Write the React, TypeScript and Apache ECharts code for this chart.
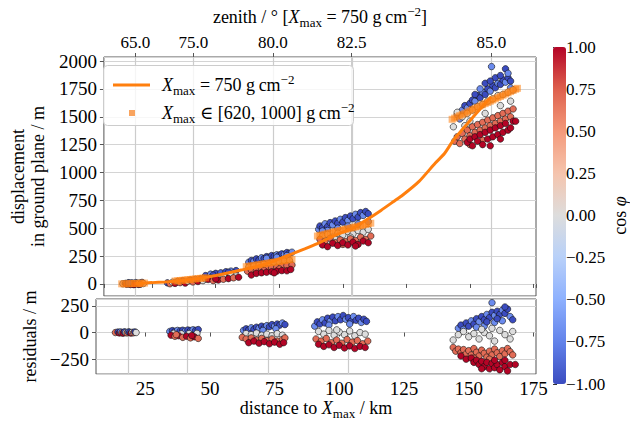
import React, { useEffect, useRef } from 'react';
import * as echarts from 'echarts';

const FONT = "'Liberation Serif', 'DejaVu Serif', serif";

// zenith axis (top): label text and the distance (km) at which it sits
const zenithLabels = ['65.0', '75.0', '80.0', '82.5', '85.0'];
const zenithKm = [18.4, 41.2, 72.5, 103.5, 158.4];

// X_max = 750 g/cm2 curve
const curveKm = [18.4, 25, 30, 35, 41.2, 46, 50, 55, 60, 65, 70, 72.5, 76, 80, 85, 90, 95, 100, 103.5, 110, 115, 120, 123.6, 130, 136.4, 140, 143.5, 147, 150, 154, 158.4];
const curveDisp = [5, 12, 18, 27, 42, 60, 76, 100, 125, 150, 182, 200, 235, 270, 315, 362, 415, 465, 495, 585, 660, 740, 798, 920, 1085, 1170, 1290, 1385, 1465, 1570, 1680];

// X_max in [620, 1000] squares: [km, displacement]
const bandA = [[13, 1], [14, 2], [15, 2], [16, 3], [17, 4], [18, 4], [19, 5], [20, 6], [21, 7], [22, 8]];
const bandB = [[34, 26], [35, 28], [36, 31], [37, 33], [38, 35], [39, 38], [40, 40], [41, 43], [42, 45], [43, 48], [44, 50], [45, 53], [46, 56]];
const bandC = [[62, 155], [63, 159], [64, 162], [65, 166], [66, 170], [67, 173], [68, 177], [69, 181], [70, 184], [71, 188], [72, 192], [73, 196], [74, 199], [75, 203], [76, 207], [77, 210], [78, 214], [79, 218], [80, 221]];
const bandD = [[90, 430], [91, 436], [92, 441], [93, 447], [94, 452], [95, 458], [96, 463], [97, 469], [98, 474], [99, 480], [100, 485], [101, 490], [102, 496], [103, 501], [104, 507], [105, 512], [106, 518], [107, 523], [108, 529], [109, 534], [110, 540], [111, 545]];
const bandE = [[143, 1477], [144, 1488], [145, 1499], [146, 1510], [147, 1520], [148, 1531], [149, 1542], [150, 1553], [151, 1564], [152, 1574], [153, 1585], [154, 1596], [155, 1607], [156, 1618], [157, 1628], [158, 1639], [159, 1650], [160, 1661], [161, 1672], [162, 1682], [163, 1693], [164, 1704], [165, 1715], [166, 1726], [167, 1736], [168, 1747], [168.7, 1755]];

// displacement points: [km, displacement, cos phi]
const topA = [[13.5, 2, 0], [14.5, 5, -1], [15, -3, 1], [15.5, 8, -0.7], [16, 0, 0.7], [16.5, -5, 1], [17, 10, -1], [17.5, 3, 0], [18, -2, 0.7], [18.5, 12, -0.7], [19, 6, -1], [19.5, -4, 1], [20, 9, 0], [20.5, 1, 0.7], [21, 14, -1], [21.5, 4, 0], [17.8, -6, 1], [15.8, 11, -1], [20.2, -3, 0.7]];
const topB = [[31, 10, -1], [32, 2, 0.7], [33, 15, 0], [34, 5, 1], [35, 22, -0.7], [36, 12, 0.7], [37, 28, -1], [38, 8, 1], [39, 25, 0], [40, 34, -1], [41, 18, 0.7], [42, 40, -0.7], [43, 22, 1], [44, 45, -1], [45, 30, 0],
  [46, 75, -1], [48, 88, -0.7], [50, 95, -1], [52, 100, -0.9], [54, 110, -1], [56, 115, -0.7], [58, 120, -1], [49, 80, -1], [55, 105, -1], [57, 98, -0.7],
  [46, 45, 0], [48, 55, 0], [51, 60, 0], [53, 72, 0], [56, 80, 0], [58, 72, 0],
  [47, 40, 1], [49, 30, 0.7], [51, 35, 1], [53, 42, 0.7], [55, 48, 1], [57, 55, 0.7], [59, 60, 1], [50, 45, 1]];
const topC = [[63, 195, -0.7], [64, 210, -1], [65, 205, -0.7], [66, 225, -1], [67, 215, -1], [68, 235, -0.7], [69, 228, -1], [70, 245, -1], [71, 240, -0.7], [72, 255, -1], [73, 248, -1], [74, 262, -0.7], [75, 258, -1], [76, 270, -1], [77, 265, -0.7], [78, 282, -1], [79, 275, -1], [80, 285, -0.7], [70, 230, -0.7], [74, 240, -0.7], [78, 255, -0.7],
  [63, 150, 0], [65, 160, 0], [67, 165, 0], [69, 175, 0], [71, 180, 0], [73, 190, 0], [75, 195, 0], [77, 205, 0], [79, 210, 0],
  [62.5, 115, 0.7], [64, 125, 0.7], [66, 120, 0.7], [68, 135, 0.7], [70, 140, 0.7], [72, 145, 0.7], [74, 150, 0.7], [76, 160, 0.7], [78, 165, 0.7], [80, 170, 0.7], [69, 120, 0.7], [75, 135, 0.7],
  [64, 80, 1], [66, 95, 1], [68, 100, 1], [70, 105, 1], [72, 110, 1], [74, 115, 1], [76, 120, 1], [78, 118, 1], [79.5, 130, 1], [73, 100, 1]];
const topD = [[90.5, 490, -0.7], [91, 520, -1], [92, 505, -1], [93, 540, -0.7], [94, 515, -1], [95, 550, -1], [96, 530, -0.7], [97, 565, -1], [98, 545, -1], [99, 580, -0.7], [100, 555, -1], [101, 595, -1], [102, 570, -0.7], [103, 610, -1], [104, 585, -1], [105, 625, -0.7], [106, 600, -1], [107, 640, -1], [108, 615, -0.7], [109, 650, -1], [110, 630, -1], [94, 480, -0.7], [98, 500, -0.7], [102, 520, -0.7], [106, 540, -0.7], [110, 560, -0.7], [92, 475, -0.7],
  [92, 430, 0], [94, 445, 0], [96, 420, 0], [98, 455, 0], [100, 440, 0], [102, 470, 0], [104, 450, 0], [106, 480, 0], [108, 465, 0], [110, 490, 0], [97, 400, 0], [103, 420, 0],
  [91, 400, 0.7], [93, 385, 0.7], [95, 410, 0.7], [97, 370, 0.7], [99, 395, 0.7], [101, 380, 0.7], [103, 405, 0.7], [105, 390, 0.7], [107, 420, 0.7], [109, 400, 0.7], [111, 430, 0.7], [100, 355, 0.7],
  [92, 350, 1], [94, 335, 1], [96, 365, 1], [98, 345, 1], [100, 370, 1], [102, 350, 1], [104, 375, 1], [106, 355, 1], [108, 385, 1], [110, 370, 1], [105, 340, 1]];
const topE = [[147, 1560, -0.7], [148, 1600, -1], [149, 1580, -0.7], [150, 1620, -1], [151, 1650, -1], [152, 1640, -0.7], [153, 1690, -1], [154, 1670, -1], [155, 1720, -0.7], [156, 1700, -1], [157, 1750, -1], [158, 1730, -0.7], [159, 1780, -1], [160, 1760, -1], [161, 1800, -0.7], [162, 1790, -1], [163, 1830, -1], [164, 1810, -0.7], [165, 1850, -1], [166, 1820, -1], [158.5, 1950, -0.7], [164, 1930, -1], [160, 1850, -1], [162, 1870, -1], [156, 1800, -1], [154, 1750, -0.7], [145, 1520, -0.7], [146, 1480, -0.7], [152, 1700, -1], [158, 1820, -1], [165, 1890, -0.7], [166, 1760, -0.7],
  [143.5, 1410, 0], [145, 1540, 0], [147, 1500, 0], [149, 1530, 0], [151, 1560, 0], [153, 1590, 0], [155, 1610, 0], [157, 1640, 0], [159, 1660, 0], [161, 1690, 0], [163, 1700, 0], [165, 1720, 0], [167, 1740, 0], [150, 1460, 0], [156, 1530, 0], [162, 1600, 0], [166, 1640, 0], [148, 1420, 0],
  [144, 1280, 0.7], [145, 1320, 0.7], [146, 1260, 0.7], [147, 1350, 0.7], [148, 1300, 0.7], [149, 1380, 0.7], [150, 1330, 0.7], [151, 1410, 0.7], [152, 1360, 0.7], [153, 1430, 0.7], [154, 1380, 0.7], [155, 1450, 0.7], [156, 1400, 0.7], [157, 1470, 0.7], [158, 1420, 0.7], [159, 1490, 0.7], [160, 1440, 0.7], [161, 1510, 0.7], [162, 1460, 0.7], [163, 1530, 0.7], [164, 1480, 0.7], [165, 1550, 0.7], [166, 1500, 0.7], [167, 1570, 0.7], [150, 1250, 0.7], [155, 1290, 0.7],
  [149, 1270, 1], [150, 1300, 1], [151, 1240, 1], [152, 1320, 1], [153, 1280, 1], [154, 1340, 1], [155, 1250, 1], [156, 1360, 1], [157, 1300, 1], [158, 1380, 1], [159, 1320, 1], [160, 1400, 1], [161, 1340, 1], [162, 1420, 1], [163, 1360, 1], [164, 1440, 1], [165, 1380, 1], [166, 1400, 1], [167, 1460, 1], [168, 1460, 1], [158, 1240, 1], [162, 1300, 1]];

// residual points: [km, residual, cos phi]
const resA = [[13.5, 0, 0.7], [14.5, 5, -1], [15, -4, 1], [15.5, 6, -0.7], [16, -2, 0.7], [16.5, -6, 1], [17, 7, -1], [17.5, 0, 0], [18, -3, 0.7], [18.5, 6, -0.7], [19, 4, -1], [19.5, -5, 1], [20, 2, 0], [20.5, -2, 0.7], [21, 6, -1], [21.5, 0, 0]];
const resB = [[34.5, 10, -0.7], [35.5, 18, -1], [36.5, 12, -1], [37.5, 20, -0.7], [38.5, 15, -1], [39.5, 22, -1], [40.5, 14, -0.7], [41.5, 24, -1], [42.5, 18, -1], [43.5, 26, -0.7], [44.5, 20, -1], [45.5, 28, -1],
  [36, -8, 0], [39, -12, 0], [42, -10, 0], [45, -8, 0],
  [35, -25, 1], [36.5, -35, 0.7], [38, -30, 1], [39.5, -45, 0.7], [41, -35, 1], [42.5, -50, 0.7], [44, -40, 1], [45.5, -55, 0.7], [37, -20, 0.7], [43, -28, 1]];
const resC = [[63, 20, -0.7], [64, 35, -1], [65, 25, -1], [66, 45, -0.7], [67, 30, -1], [68, 50, -1], [69, 40, -0.7], [70, 60, -1], [71, 45, -1], [72, 65, -0.7], [73, 55, -1], [74, 75, -1], [75, 60, -0.7], [76, 80, -1], [77, 70, -1], [78, 90, -0.7], [79, 75, -1], [70.5, 20, -0.7], [75.5, 35, -0.7],
  [64, -10, 0], [66, -20, 0], [68, -5, 0], [70, -25, 0], [72, -15, 0], [74, -30, 0], [76, -10, 0], [78, -25, 0],
  [62.5, -45, 0.7], [64, -60, 0.7], [66, -50, 0.7], [68, -70, 0.7], [70, -55, 0.7], [72, -75, 0.7], [74, -60, 0.7], [76, -80, 0.7], [78, -65, 0.7], [79, -50, 0.7],
  [65, -95, 1], [67, -80, 1], [69, -100, 1], [71, -85, 1], [73, -105, 1], [75, -90, 1], [77, -110, 1], [78.5, -95, 1]];
const resD = [[90.5, 60, -0.7], [91.5, 100, -1], [92.5, 80, -1], [93.5, 120, -0.7], [94.5, 90, -1], [95.5, 135, -1], [96.5, 105, -0.7], [97.5, 145, -1], [98.5, 110, -1], [99.5, 150, -0.7], [100.5, 120, -1], [101.5, 160, -1], [102.5, 125, -0.7], [103.5, 140, -1], [104.5, 105, -1], [105.5, 150, -0.7], [106.5, 115, -1], [107.5, 135, -1], [108.5, 95, -0.7], [109.5, 125, -1], [110.5, 105, -1], [96, 70, -0.7], [104, 80, -0.7],
  [92, 10, 0], [94, -15, 0], [96, 20, 0], [98, -25, 0], [100, 5, 0], [102, -20, 0], [104, 15, 0], [106, -30, 0], [108, 0, 0], [110, -15, 0], [99, 25, 0],
  [91, -60, 0.7], [93, -80, 0.7], [95, -55, 0.7], [97, -95, 0.7], [99, -70, 0.7], [101, -100, 0.7], [103, -65, 0.7], [105, -90, 0.7], [107, -75, 0.7], [109, -105, 0.7], [111, -80, 0.7],
  [92, -110, 1], [94, -130, 1], [96, -115, 1], [98, -140, 1], [100, -120, 1], [102, -145, 1], [104, -125, 1], [106, -150, 1], [108, -130, 1], [110, -140, 1]];
const resE = [[146, 40, -0.7], [147, 70, -1], [148, 30, -0.7], [149, 90, -1], [150, 60, -1], [151, 110, -0.7], [152, 80, -1], [153, 130, -1], [154, 100, -0.7], [155, 150, -1], [156, 120, -1], [157, 170, -0.7], [158, 140, -1], [159, 190, -1], [160, 160, -0.7], [161, 200, -1], [162, 170, -1], [163, 210, -0.7], [164, 180, -1], [165, 220, -1], [166, 150, -0.7], [167, 120, -1], [159, 280, -0.7], [164, 240, -1], [156, 60, -0.7], [160, 95, -0.7], [163, 110, -0.7], [153, 50, -0.7], [157, 100, -1], [161, 130, -1],
  [144, -70, 0], [146, -20, 0], [148, 10, 0], [150, -40, 0], [152, -10, 0], [154, -60, 0], [156, 0, 0], [158, -30, 0], [160, -80, 0], [162, 20, 0], [164, -20, 0], [166, -60, 0], [167, 10, 0], [155, 30, 0], [159, 40, 0],
  [144, -140, 0.7], [145, -175, 0.7], [146, -155, 0.7], [147, -190, 0.7], [148, -160, 0.7], [149, -200, 0.7], [150, -170, 0.7], [151, -210, 0.7], [152, -150, 0.7], [153, -185, 0.7], [154, -220, 0.7], [155, -165, 0.7], [156, -195, 0.7], [157, -230, 0.7], [158, -175, 0.7], [159, -210, 0.7], [160, -155, 0.7], [161, -190, 0.7], [162, -225, 0.7], [163, -170, 0.7], [164, -200, 0.7], [165, -150, 0.7], [166, -180, 0.7], [167, -210, 0.7], [158, -250, 0.7], [152, -240, 0.7],
  [147, -220, 1], [149, -250, 1], [151, -240, 1], [152, -280, 1], [153, -260, 1], [154, -300, 1], [155, -270, 1], [156, -320, 1], [157, -280, 1], [158, -340, 1], [159, -290, 1], [160, -330, 1], [161, -300, 1], [162, -350, 1], [163, -280, 1], [164, -320, 1], [165, -360, 1], [166, -300, 1], [168, -300, 1], [155, -340, 1], [160, -260, 1], [164, -260, 1]];

const coolwarm = ['#3b4cc0', '#6282ea', '#8db0fe', '#b8d0f9', '#dddddd', '#f5c4ad', '#f49a7b', '#de604d', '#b40426'];

const minus = (s: string) => s.replace('-', '\u2212');

const rich = (size: number) => ({
  n: { fontFamily: FONT, fontSize: size, color: '#000', lineHeight: 24, verticalAlign: 'middle' },
  i: { fontFamily: FONT, fontSize: size, fontStyle: 'italic', color: '#000', lineHeight: 24, verticalAlign: 'middle' },
  s: { fontFamily: FONT, fontSize: Math.round(size * 0.7), color: '#000', lineHeight: 12, verticalAlign: 'bottom' },
  p: { fontFamily: FONT, fontSize: Math.round(size * 0.7), color: '#000', lineHeight: 12, verticalAlign: 'top' },
});

const FRAME = '#555555';
const GRIDC = '#d4d4d4';
const VGRIDC = '#cccccc';

// vertical grid lines at the zenith ticks, spanning the whole plot height
const zenithGridItem = (params: any, api: any) => {
  const cs = params.coordSys;
  const x = Math.round(api.coord([api.value(0), api.value(1)])[0]) + 0.5;
  return {
    type: 'line',
    shape: { x1: x, y1: cs.y, x2: x, y2: cs.y + cs.height },
    style: { stroke: VGRIDC, lineWidth: 1.2 },
  };
};

export default function App() {
  const ref = useRef<HTMLDivElement>(null);
  useEffect(() => {
    if (!ref.current) return;
    const chart = echarts.init(ref.current, null, { renderer: 'svg' });
    const topPoints = [...topA, ...topB, ...topC, ...topD, ...topE];
    const resPoints = [...resA, ...resB, ...resC, ...resD, ...resE];
    const bandPoints = [...bandA, ...bandB, ...bandC, ...bandD, ...bandE];
    const curve = curveKm.map((k, i) => [k, curveDisp[i]]);
    const zenithData = zenithKm.map((k) => [k, 0]);
    const tickLabel = { fontFamily: FONT, fontSize: 19, color: '#000' };
    const option: any = {
      animation: false,
      backgroundColor: '#fff',
      grid: [
        { left: 96, right: 94, top: 57, height: 239, show: true, borderColor: FRAME, borderWidth: 1, backgroundColor: 'transparent' },
        { left: 96, right: 94, top: 299, height: 76, show: true, borderColor: FRAME, borderWidth: 1, backgroundColor: 'transparent' },
        { left: 553, top: 47, width: 13, height: 337, show: false },
      ],
      xAxis: [
        {
          type: 'value', gridIndex: 0, position: 'bottom', min: 6, max: 176, minInterval: 25, maxInterval: 25,
          axisLine: { show: false }, axisTick: { show: true, length: 4, lineStyle: { color: FRAME } },
          axisLabel: { show: false }, splitLine: { show: false },
        },
        {
          type: 'value', gridIndex: 0, position: 'top', min: 6, max: 176,
          axisLine: { show: false },
          axisTick: { show: true, customValues: zenithKm, length: 4, lineStyle: { color: FRAME } },
          axisLabel: {
            customValues: zenithKm, fontFamily: FONT, fontSize: 17, color: '#000', margin: 6,
            formatter: (v: number) => {
              const i = zenithKm.findIndex((k) => Math.abs(k - v) < 0.01);
              return i >= 0 ? zenithLabels[i] : '';
            },
          },
          splitLine: { show: true, lineStyle: { color: VGRIDC, width: 1 } },
          name: '{n|zenith / \u00b0 [}{i|X}{s|max}{n| = 750 g\u2009cm}{p|\u22122}{n|]}',
          nameLocation: 'middle', nameGap: 28, nameTextStyle: { rich: rich(18) },
        },
        {
          type: 'value', gridIndex: 1, position: 'bottom', min: 6, max: 176, minInterval: 25, maxInterval: 25,
          axisLine: { show: false }, axisTick: { show: true, length: 4, lineStyle: { color: FRAME } },
          axisLabel: { ...tickLabel, margin: 5, showMinLabel: false, showMaxLabel: false, formatter: (v: number) => String(v) },
          splitLine: { show: false },
          name: '{n|distance to }{i|X}{s|max}{n| / km}',
          nameLocation: 'middle', nameGap: 21, nameTextStyle: { rich: rich(18) },
        },
        { type: 'value', gridIndex: 2, min: 0, max: 1, show: false },
      ],
      yAxis: [
        {
          type: 'value', gridIndex: 0, min: -108, max: 2036, minInterval: 250, maxInterval: 250,
          axisLine: { show: false }, axisTick: { show: true, length: 4, lineStyle: { color: FRAME } },
          axisLabel: { ...tickLabel, margin: 7, showMinLabel: false, showMaxLabel: false, formatter: (v: number) => String(v) },
          splitLine: { show: true, lineStyle: { color: GRIDC, width: 1 } },
          name: 'displacement\nin ground plane / m', nameLocation: 'middle', nameGap: 44,
          nameTextStyle: { fontFamily: FONT, fontSize: 18, color: '#000', lineHeight: 20 },
        },
        {
          type: 'value', gridIndex: 1, min: -390, max: 315, minInterval: 250, maxInterval: 250,
          axisLine: { show: false }, axisTick: { show: true, length: 4, lineStyle: { color: FRAME } },
          axisLabel: { ...tickLabel, margin: 7, showMinLabel: false, showMaxLabel: false, formatter: (v: number) => minus(String(v)) },
          splitLine: { show: true, lineStyle: { color: GRIDC, width: 1 } },
          name: 'residuals / m', nameLocation: 'middle', nameGap: 52,
          nameTextStyle: { fontFamily: FONT, fontSize: 18, color: '#000' },
        },
        {
          type: 'value', gridIndex: 2, position: 'right', min: -1, max: 1, interval: 0.25,
          axisLine: { show: false }, axisTick: { show: true, length: 4, lineStyle: { color: '#333' } },
          axisLabel: { fontFamily: FONT, fontSize: 17, color: '#000', margin: 5, formatter: (v: number) => minus(v.toFixed(2)) },
          splitLine: { show: false },
          name: '{n|cos }{i|\u03c6}', nameLocation: 'middle', nameGap: 47, nameTextStyle: { rich: rich(18) },
        },
      ],
      visualMap: {
        type: 'continuous', min: -1, max: 1, dimension: 2, seriesIndex: [2, 3],
        inRange: { color: coolwarm }, calculable: false, orient: 'vertical',
        left: 553, top: 47, itemWidth: 13, itemHeight: 337, padding: 0, show: true,
      },
      legend: [
        {
          data: [{ name: 'l750', icon: 'rect', itemStyle: { color: '#ff7f0e' } }], left: 108, top: 68, orient: 'vertical',
          itemWidth: 37, itemHeight: 3, selectedMode: false,
          formatter: () => '{i|X}{s|max}{n| = 750 g\u2009cm}{p|\u22122}',
          textStyle: { padding: [0, 0, 0, 7], rich: rich(18) },
        },
        {
          data: [{ name: 'lband', icon: 'rect', itemStyle: { color: '#f9a45f', opacity: 1 } }], left: 124, top: 96, orient: 'vertical',
          itemWidth: 6, itemHeight: 6, selectedMode: false,
          formatter: () => '{i|X}{s|max}{n| \u2208 [620, 1000] g\u2009cm}{p|\u22122}',
          textStyle: { padding: [0, 0, 0, 22], rich: rich(18) },
        },
      ],
      graphic: [
        {
          type: 'rect', left: 103, top: 65, z: 3, silent: true,
          shape: { width: 250, height: 60, r: 4 },
          style: { fill: 'rgba(255,255,255,0.8)', stroke: '#cccccc', lineWidth: 1 },
        },
      ],
      series: [
        {
          type: 'custom', name: 'zgrid0', xAxisIndex: 0, yAxisIndex: 0, data: zenithData, z: 1,
          renderItem: zenithGridItem,
        },
        {
          type: 'custom', name: 'zgrid1', xAxisIndex: 2, yAxisIndex: 1, data: zenithData, z: 1,
          renderItem: zenithGridItem,
        },
        {
          type: 'scatter', name: 'top', xAxisIndex: 0, yAxisIndex: 0, data: topPoints, symbolSize: 6.5, z: 2,
          itemStyle: { borderColor: '#111', borderWidth: 0.6, opacity: 1 },
        },
        {
          type: 'scatter', name: 'res', xAxisIndex: 2, yAxisIndex: 1, data: resPoints, symbolSize: 6.5, z: 2,
          itemStyle: { borderColor: '#111', borderWidth: 0.6, opacity: 1 },
        },
        {
          type: 'line', name: 'l750', xAxisIndex: 0, yAxisIndex: 0, data: curve, symbol: 'none', showSymbol: false, smooth: 0.2, z: 3,
          lineStyle: { color: '#ff7f0e', width: 3 }, itemStyle: { color: '#ff7f0e' },
        },
        {
          type: 'scatter', name: 'lband', xAxisIndex: 0, yAxisIndex: 0, data: bandPoints, symbol: 'rect', symbolSize: 7, z: 3,
          itemStyle: { color: '#ff7f0e', opacity: 0.55 },
        },
      ],
    };
    chart.setOption(option);
    return () => chart.dispose();
  }, []);
  return <div ref={ref} style={{ position: 'fixed', left: 0, top: 0, width: 630, height: 421 }} />;
}
